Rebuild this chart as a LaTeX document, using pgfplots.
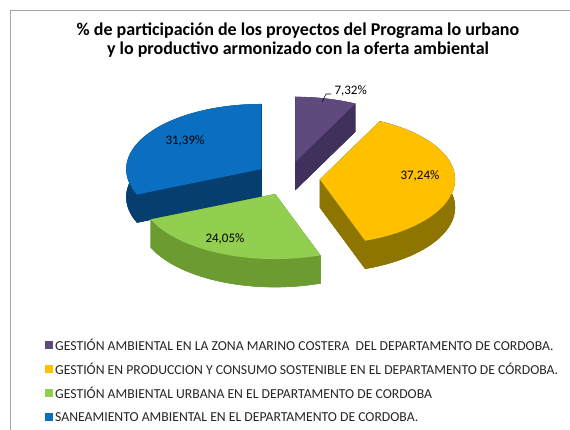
\documentclass[border=0pt]{standalone}
\usepackage{pgfplots}
\pgfplotsset{compat=1.18}
\usepackage{pgfplotstable}
\usepackage{fontspec}
\setmainfont{Carlito}

\definecolor{pTop}{HTML}{5F4A7E}\definecolor{pSide}{HTML}{40305C}
\definecolor{yTop}{HTML}{FFC000}\definecolor{ySide}{HTML}{8E7500}
\definecolor{gTop}{HTML}{92CF50}\definecolor{gSide}{HTML}{6C9C31}
\definecolor{bTop}{HTML}{0A6FC0}\definecolor{bSide}{HTML}{063E70}
\definecolor{frame}{HTML}{A6A6A6}

\pgfplotstableread{
val
7.32
37.24
24.05
31.39
}\piedata

% geometry of the 3-D pie (in pixel units, y downwards)
\def\cx{288}\def\cy{178.5}\def\rx{135}\def\ry{65}\def\ex{32}\def\ey{17}\def\dep{28}

% #1,#2 vertex; #3,#4 start/end angle (clockwise from 12 o'clock); #5 side colour; #6 top colour
\newcommand\solid[6]{%
  % bottom sector
  \addplot[fill=#5, draw=#5, line width=0.3pt, domain=#3:#4, samples=45, variable=\t]
      ({#1+\rx*sin(\t)},{#2+\dep-\ry*cos(\t)}) -- (axis cs:#1,#2+\dep) -- cycle;
  % outer curved side
  \addplot[fill=#5, draw=#5, line width=0.3pt, samples at={0,...,81}, variable=\t]
      ({#1+\rx*sin(\t<=40 ? #3+(#4-#3)*\t/40 : #4-(#4-#3)*(\t-41)/40)},
       {#2-\ry*cos(\t<=40 ? #3+(#4-#3)*\t/40 : #4-(#4-#3)*(\t-41)/40)+(\t>40)*\dep}) -- cycle;
  % radial cut faces
  \fill[#5, draw=#5, line width=0.3pt] (axis cs:#1,#2) -- (axis cs:{#1+\rx*sin(#3)},{#2-\ry*cos(#3)})
      -- (axis cs:{#1+\rx*sin(#3)},{#2+\dep-\ry*cos(#3)}) -- (axis cs:#1,#2+\dep) -- cycle;
  \fill[#5, draw=#5, line width=0.3pt] (axis cs:#1,#2) -- (axis cs:{#1+\rx*sin(#4)},{#2-\ry*cos(#4)})
      -- (axis cs:{#1+\rx*sin(#4)},{#2+\dep-\ry*cos(#4)}) -- (axis cs:#1,#2+\dep) -- cycle;
  % top face
  \addplot[fill=#6, draw=none, domain=#3:#4, samples=45, variable=\t]
      ({#1+\rx*sin(\t)},{#2-\ry*cos(\t)}) -- (axis cs:#1,#2) -- cycle;
}

\begin{document}
\begin{tikzpicture}
\pgfplotstablegetelem{0}{val}\of\piedata \let\vA\pgfplotsretval
\pgfplotstablegetelem{1}{val}\of\piedata \let\vB\pgfplotsretval
\pgfplotstablegetelem{2}{val}\of\piedata \let\vC\pgfplotsretval
\pgfplotstablegetelem{3}{val}\of\piedata \let\vD\pgfplotsretval
\pgfmathsetmacro\aA{0}
\pgfmathsetmacro\aB{\aA+3.6*\vA}
\pgfmathsetmacro\aC{\aB+3.6*\vB}
\pgfmathsetmacro\aD{\aC+3.6*\vC}
\pgfmathsetmacro\aE{\aD+3.6*\vD}
\pgfmathsetmacro\xA{\cx+\ex*sin((\aA+\aB)/2)}\pgfmathsetmacro\yA{\cy-\ey*cos((\aA+\aB)/2)}
\pgfmathsetmacro\xB{\cx+\ex*sin((\aB+\aC)/2)}\pgfmathsetmacro\yB{\cy-\ey*cos((\aB+\aC)/2)}
\pgfmathsetmacro\xC{\cx+\ex*sin((\aC+\aD)/2)}\pgfmathsetmacro\yC{\cy-\ey*cos((\aC+\aD)/2)}
\pgfmathsetmacro\xD{\cx+\ex*sin((\aD+\aE)/2)}\pgfmathsetmacro\yD{\cy-\ey*cos((\aD+\aE)/2)}
\begin{axis}[
  name=ax, scale only axis, width=570pt, height=430pt,
  xmin=0, xmax=570, ymin=0, ymax=430, y dir=reverse,
  hide axis, clip=false, no markers]
\fill[white] (axis cs:0,0) rectangle (axis cs:570,430);
\draw[frame, line width=1pt] (axis cs:10,432) -- (axis cs:10,11) -- (axis cs:572,11);
% title
\node[align=center, font=\bfseries\fontsize{18}{19.5}\selectfont] at (axis cs:298,40)
  {\% de participación de los proyectos del Programa lo urbano\\y lo productivo armonizado con la oferta ambiental};
% pie (back to front)
\solid{\xA}{\yA}{\aA}{\aB}{pSide}{pTop}
\solid{\xD}{\yD}{\aD}{\aE}{bSide}{bTop}
\solid{\xB}{\yB}{\aB}{\aC}{ySide}{yTop}
\solid{\xC}{\yC}{\aC}{\aD}{gSide}{gTop}
% labels
\draw[black, line width=0.6pt] (axis cs:322,102) -- (axis cs:326,94) -- (axis cs:331,94);
\node[anchor=west, font=\fontsize{13}{15}\selectfont] at (axis cs:331,91) {7,32\%};
\node[font=\fontsize{13}{15}\selectfont] at (axis cs:420,176) {37,24\%};
\node[font=\fontsize{13}{15}\selectfont] at (axis cs:185,141) {31,39\%};
\node[font=\fontsize{13}{15}\selectfont] at (axis cs:225,239) {24,05\%};
% legend
\fill[pTop] (axis cs:45,341) rectangle (axis cs:53,349);
\fill[yTop] (axis cs:45,365) rectangle (axis cs:53,373);
\fill[gTop] (axis cs:45,389) rectangle (axis cs:53,397);
\fill[bTop] (axis cs:45,413) rectangle (axis cs:53,421);
\begin{scope}[every node/.style={anchor=west, inner sep=0pt, font=\fontsize{13.7}{15}\selectfont, text=black!85}]
\node at (axis cs:55,345) {GESTIÓN AMBIENTAL EN LA ZONA MARINO COSTERA\ \ DEL DEPARTAMENTO DE CORDOBA.};
\node at (axis cs:55,369) {GESTIÓN EN PRODUCCION Y CONSUMO SOSTENIBLE EN EL DEPARTAMENTO DE CÓRDOBA.};
\node at (axis cs:55,393) {GESTIÓN AMBIENTAL URBANA EN EL DEPARTAMENTO DE CORDOBA};
\node at (axis cs:55,417) {SANEAMIENTO AMBIENTAL EN EL DEPARTAMENTO DE CORDOBA.};
\end{scope}
\end{axis}
\pgfresetboundingbox
\useasboundingbox (ax.south west) rectangle (ax.north east);
\end{tikzpicture}
\end{document}
